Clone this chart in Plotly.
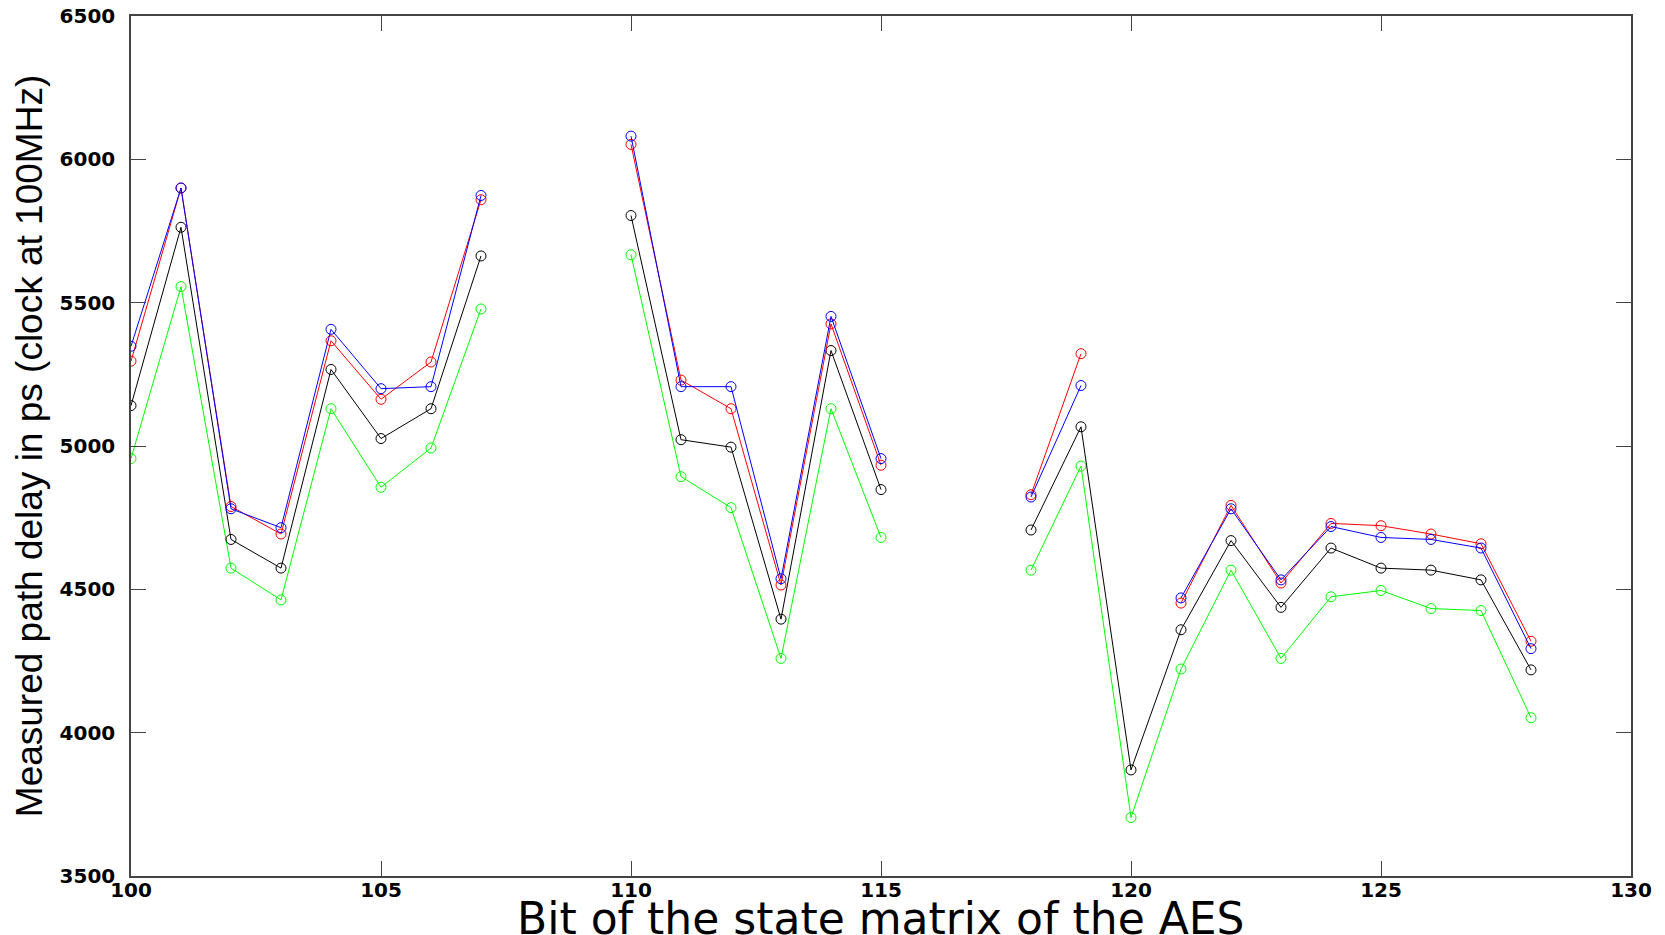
import plotly.graph_objects as go

bits = list(range(100, 129))

blue = [5348, 5900, 4781, 4715, 5407, 5200, 5207, 5874, None, None,
        6081, 5207, 5207, 4537, 5452, 4956, None, None,
        4822, 5211, None, 4470, 4781, 4533, 4719, 4681, 4674, 4644, 4293]
red = [5296, 5900, 4789, 4693, 5367, 5163, 5293, 5859, None, None,
       6052, 5230, 5130, 4515, 5426, 4933, None, None,
       4830, 5322, None, 4452, 4793, 4522, 4730, 4722, 4693, 4659, 4319]
black = [5141, 5763, 4674, 4574, 5267, 5026, 5130, 5663, None, None,
         5804, 5022, 4996, 4396, 5333, 4848, None, None,
         4707, 5067, 3870, 4359, 4670, 4437, 4644, 4574, 4567, 4533, 4219]
green = [4956, 5556, 4574, 4463, 5130, 4856, 4993, 5478, None, None,
         5667, 4893, 4785, 4259, 5130, 4681, None, None,
         4567, 4930, 3704, 4222, 4567, 4259, 4474, 4496, 4433, 4426, 4052]

x_ticks = [100, 105, 110, 115, 120, 125, 130]
y_ticks = [3500, 4000, 4500, 5000, 5500, 6000, 6500]

x_title = "Bit of the state matrix of the AES"
y_title = "Measured path delay in ps (clock at 100MHz)"

series = [("green", green, "#00ff00"), ("black", black, "#000000"),
          ("red", red, "#ff0000"), ("blue", blue, "#0000ff")]

fig = go.Figure()
for name, vals, col in series:
    fig.add_trace(go.Scatter(
        x=bits, y=vals, mode="lines+markers", name=name,
        line=dict(color=col, width=1),
        marker=dict(symbol="circle-open", size=10, color=col, line=dict(width=1)),
        connectgaps=False, showlegend=False))

axis_common = dict(
    showline=True, linecolor="#444444", linewidth=1.5, mirror="ticks",
    ticks="inside", ticklen=15, tickcolor="#444444", tickwidth=1.2,
    showgrid=False, zeroline=False, ticklabeloverflow="allow",
    tickfont=dict(family="DejaVu Sans, Liberation Sans, Arial, sans-serif", size=20, color="black", weight="bold"),
)

fig.update_layout(
    width=1665, height=935,
    paper_bgcolor="white", plot_bgcolor="white",
    margin=dict(l=131, r=34, t=16, b=59),
    xaxis=dict(range=[100, 130], tickvals=x_ticks, ticktext=[str(v) for v in x_ticks],
               ticklabelstandoff=-5, automargin=False, **axis_common),
    yaxis=dict(range=[3500, 6500], tickvals=y_ticks, ticktext=[str(v) for v in y_ticks],
               ticklabelstandoff=10,
               title=dict(text=y_title, standoff=6,
                          font=dict(family="Liberation Sans, Arial, sans-serif", size=37, color="black")),
               automargin=False, **axis_common),
    annotations=[dict(text=x_title, xref="paper", yref="paper", x=0.5, y=0,
                      xanchor="center", yanchor="middle", yshift=-42, showarrow=False,
                      font=dict(family="DejaVu Sans, Liberation Sans, Arial, sans-serif", size=44, color="black"))],
)

fig.write_html("out.html", config={"displayModeBar": False},
               post_script="document.body.style.margin='0';")
